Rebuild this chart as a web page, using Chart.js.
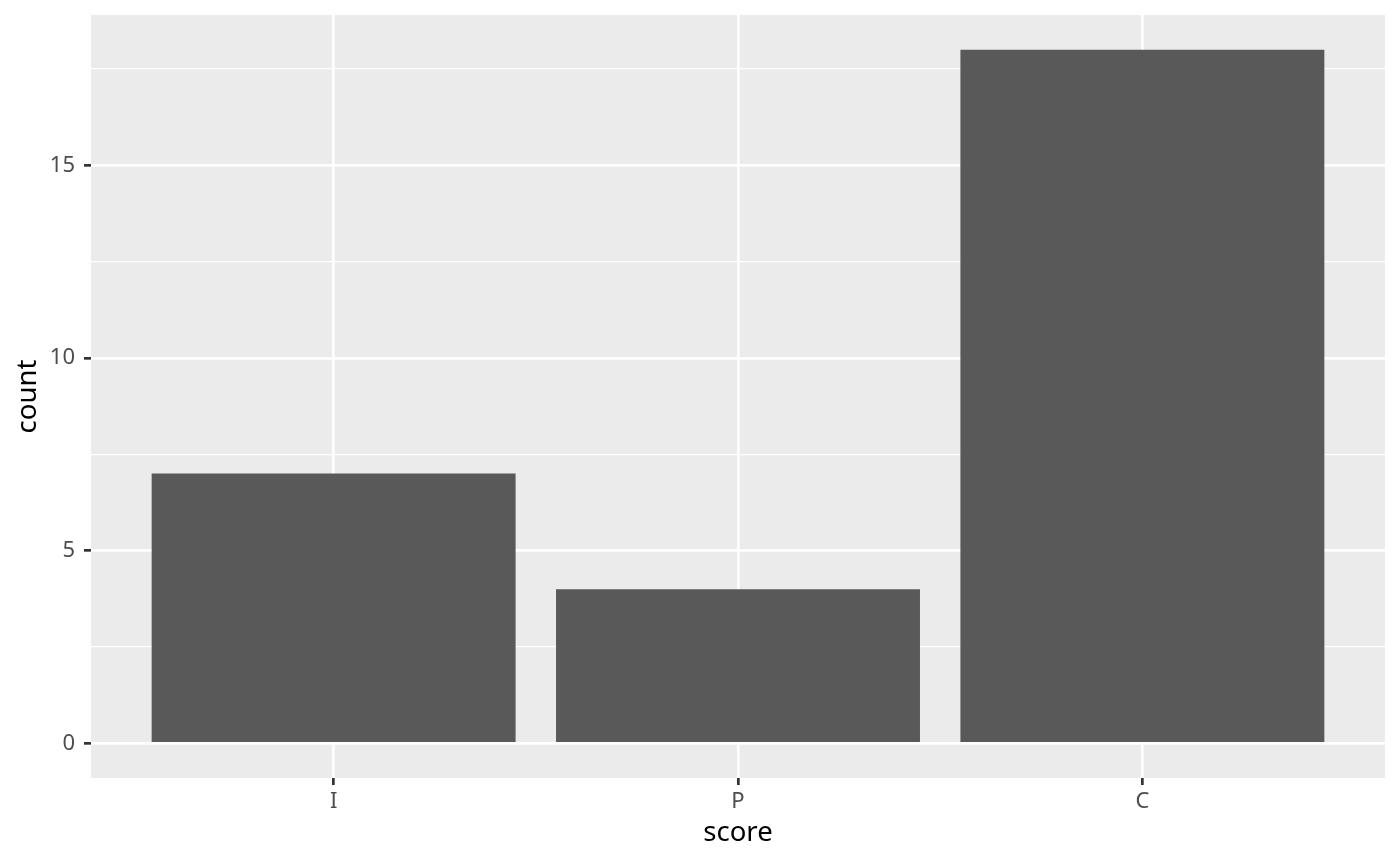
<!DOCTYPE html>
<html>
<head>
<meta charset="utf-8">
<script src="https://cdn.jsdelivr.net/npm/chart.js@4"></script>
<style>
  html, body { margin: 0; padding: 0; background: #fff; }
  canvas { display: block; }
</style>
</head>
<body>
<canvas id="chart" width="1400" height="865"></canvas>
<script>
// data
const scores = ['I', 'P', 'C'];
const counts = [7, 4, 18];
const yMajorTicks = [0, 5, 10, 15];
const yMinorTicks = [2.5, 7.5, 12.5, 17.5];

const FONT = '"Noto Sans", "Open Sans", sans-serif';

// grey ggplot panel behind the bars
const panelBg = {
    id: 'panelBg',
    beforeDraw(chart) {
        const a = chart.chartArea;
        const c = chart.ctx;
        c.save();
        c.fillStyle = '#EBEBEB';
        c.fillRect(a.left, a.top, a.right - a.left, a.bottom - a.top);
        c.restore();
    }
};

const isMajor = v => yMajorTicks.includes(v);

new Chart(document.getElementById('chart').getContext('2d'), {
    type: 'bar',
    data: {
        datasets: [{
            data: scores.map((s, i) => ({ x: i + 1, y: counts[i] })),
            backgroundColor: '#595959',
            borderWidth: 0,
            barPercentage: 0.9,
            categoryPercentage: 1
        }]
    },
    options: {
        responsive: false,
        devicePixelRatio: 1,
        animation: false,
        layout: { padding: { top: 15, right: 15, left: 0, bottom: 0 } },
        plugins: { legend: { display: false }, tooltip: { enabled: false } },
        scales: {
            x: {
                type: 'linear',
                min: 0.4,
                max: 3.6,
                offset: false,
                afterBuildTicks: s => { s.ticks = scores.map((_, i) => ({ value: i + 1 })); },
                afterFit: s => { s.height = 87; s.paddingLeft = 0; s.paddingRight = 0; },
                border: { display: false },
                grid: { offset: false, color: '#FFFFFF', lineWidth: 2.7, tickColor: '#333333', tickLength: 7, tickWidth: 2.7 },
                ticks: {
                    padding: 4,
                    color: '#4D4D4D',
                    font: { family: FONT, size: 22 },
                    callback: v => scores[v - 1]
                },
                title: {
                    display: true,
                    text: 'score',
                    color: '#000000',
                    font: { family: FONT, size: 27.5 },
                    padding: { top: 0, bottom: 15 }
                }
            },
            y: {
                min: -0.9,
                max: 18.9,
                afterBuildTicks: s => {
                    s.ticks = yMajorTicks.concat(yMinorTicks).sort((a, b) => a - b).map(v => ({ value: v }));
                },
                afterFit: s => { s.width = 91; s.paddingTop = 0; s.paddingBottom = 0; },
                border: { display: false },
                grid: {
                    color: '#FFFFFF',
                    lineWidth: c => (c.tick && isMajor(c.tick.value)) ? 2.7 : 1.35,
                    tickColor: c => (c.tick && isMajor(c.tick.value)) ? '#333333' : 'rgba(0,0,0,0)',
                    tickLength: 7,
                    tickWidth: 2.7
                },
                ticks: {
                    padding: 9,
                    color: '#4D4D4D',
                    font: { family: FONT, size: 22 },
                    callback: v => isMajor(v) ? String(v) : ''
                },
                title: {
                    display: true,
                    text: 'count',
                    color: '#000000',
                    font: { family: FONT, size: 27.5 },
                    padding: { top: 12, bottom: 0 }
                }
            }
        }
    },
    plugins: [panelBg]
});
</script>
</body>
</html>
